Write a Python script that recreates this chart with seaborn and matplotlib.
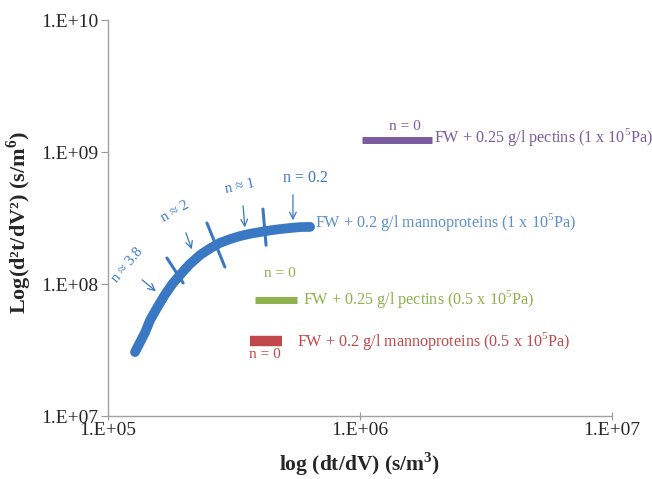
import numpy as np
import pandas as pd
import matplotlib
matplotlib.use('Agg')
import matplotlib.pyplot as plt
import seaborn as sns

# filtration curve, FW + 0.2 g/l mannoproteins (1 x 10^5 Pa)
dt_dv = [1.28e5, 1.40e5, 1.47e5, 1.58e5, 1.68e5, 1.80e5, 1.93e5, 2.10e5, 2.32e5, 2.55e5,
         2.78e5, 3.05e5, 3.34e5, 3.65e5, 4.01e5, 4.40e5, 4.82e5, 5.30e5, 5.78e5, 6.34e5]
d2t_dv2 = [3.05e7, 4.25e7, 5.34e7, 6.80e7, 8.26e7, 1.00e8, 1.17e8, 1.40e8, 1.66e8, 1.87e8,
           2.05e8, 2.19e8, 2.31e8, 2.40e8, 2.48e8, 2.55e8, 2.61e8, 2.66e8, 2.70e8, 2.71e8]

# flat (n = 0) series: x range and y level
purple_x = [1.02e6, 1.93e6]
purple_y = [1.23e9, 1.23e9]
green_x = [3.83e5, 5.62e5]
green_y = [7.57e7, 7.57e7]
red_x = [3.66e5, 4.90e5]
red_y = [3.70e7, 3.70e7]

# segment boundaries across the curve (start/end)
seg_x = [(1.714e5, 1.987e5), (2.47e5, 2.91e5), (4.12e5, 4.24e5)]
seg_y = [(1.574e8, 1.019e8), (2.90e8, 1.346e8), (3.70e8, 1.97e8)]

n_labels = ['n ≈ 3.8', 'n ≈ 2', 'n ≈ 1', 'n = 0.2']

tick_vals_x = [1e5, 1e6, 1e7]
tick_labels_x = ['1.E+05', '1.E+06', '1.E+07']
tick_vals_y = [1e7, 1e8, 1e9, 1e10]
tick_labels_y = ['1.E+07', '1.E+08', '1.E+09', '1.E+10']

sns.set_style('white')
plt.rcParams['font.family'] = ['Liberation Serif', 'DejaVu Serif']
plt.rcParams['mathtext.fontset'] = 'custom'
plt.rcParams['mathtext.rm'] = 'Liberation Serif'
plt.rcParams['mathtext.bf'] = 'Liberation Serif:bold'

blue = '#3a78c4'
lblue = '#5b8fd0'
purple = '#7b5ba0'
green = '#8db04a'
red = '#c0474a'

fig = plt.figure(figsize=(6.52, 4.79), dpi=100)
ax = fig.add_axes([0.1656, 0.1315, 0.773, 0.8265])

df = pd.DataFrame({'x': dt_dv, 'y': d2t_dv2})
sns.lineplot(data=df, x='x', y='y', sort=False, color=blue, lw=7,
             solid_capstyle='round', solid_joinstyle='round', ax=ax)
sns.lineplot(x=purple_x, y=purple_y, color=purple, lw=5, ax=ax, solid_capstyle='butt')
sns.lineplot(x=green_x, y=green_y, color=green, lw=5, ax=ax, solid_capstyle='butt')
sns.lineplot(x=red_x, y=red_y, color=red, lw=7.5, ax=ax, solid_capstyle='butt')

for sx, sy in zip(seg_x, seg_y):
    ax.plot(sx, sy, color=blue, lw=2.2)

ax.set_xscale('log')
ax.set_yscale('log')
ax.set_xlim(1e5, 1e7)
ax.set_ylim(1e7, 1e10)
ax.set_xticks(tick_vals_x, tick_labels_x)
ax.set_yticks(tick_vals_y, tick_labels_y)
ax.minorticks_off()
ax.tick_params(axis='x', direction='inout', length=6, width=0.8, color='#999999',
               labelsize=14, pad=1, bottom=True)
ax.tick_params(axis='y', direction='out', length=5, width=0.8, color='#999999',
               labelsize=14, pad=2, left=True)
for s in ['top', 'right']:
    ax.spines[s].set_visible(False)
for s in ['left', 'bottom']:
    ax.spines[s].set_color('#a0a0a0')
    ax.spines[s].set_linewidth(1)

ax.set_xlabel(r'log (dt/dV) (s/m$^\mathbf{3}$)', fontsize=15.5, fontweight='bold')
ax.set_ylabel(r'Log(d²t/dV²) (s/m$^\mathbf{6}$)', fontsize=16, fontweight='bold')
ax.xaxis.set_label_coords(0.5, -0.088)
ax.yaxis.set_label_coords(-0.147, 0.49)

# arrows and n labels
arrows = [((1.34e5, 1.11e8), (1.58e5, 8.55e7)),
          ((2.02e5, 2.56e8), (2.17e5, 1.75e8)),
          ((3.43e5, 4.11e8), (3.50e5, 2.56e8)),
          ((5.42e5, 4.98e8), (5.42e5, 2.90e8))]
for start, end in arrows:
    ax.annotate('', xy=end, xytext=start,
                arrowprops=dict(arrowstyle='->', color=blue, lw=0.9, mutation_scale=12))
label_pos = [(1.2e5, 1.39e8, 50), (1.85e5, 3.57e8, 30), (3.34e5, 5.52e8, 12), (6.05e5, 6.36e8, 0)]
for txt, (lx, ly, rot) in zip(n_labels, label_pos):
    ax.text(lx, ly, txt, color=blue, fontsize=10.5 if rot else 11.5, rotation=rot,
            ha='center', va='center')

fs = 11.6
ax.text(6.62e5, 2.95e8, r'FW + 0.2 g/l mannoproteins (1 x 10$^5$Pa)', color=lblue,
        fontsize=fs, ha='left', va='center')
ax.text(1.51e6, 1.55e9, 'n = 0', color=purple, fontsize=11, ha='center', va='center')
ax.text(1.97e6, 1.30e9, r'FW + 0.25 g/l pectins (1 x 10$^5$Pa)', color=purple,
        fontsize=fs, ha='left', va='center')
ax.text(4.82e5, 1.21e8, 'n = 0', color=green, fontsize=11, ha='center', va='center')
ax.text(5.94e5, 7.69e7, r'FW + 0.25 g/l pectins (0.5 x 10$^5$Pa)', color=green,
        fontsize=fs, ha='left', va='center')
ax.text(4.2e5, 2.95e7, 'n = 0', color=red, fontsize=11, ha='center', va='center')
ax.text(5.62e5, 3.70e7, r'FW + 0.2 g/l mannoproteins (0.5 x 10$^5$Pa)', color=red,
        fontsize=fs, ha='left', va='center')

fig.savefig('out.png', dpi=100)
